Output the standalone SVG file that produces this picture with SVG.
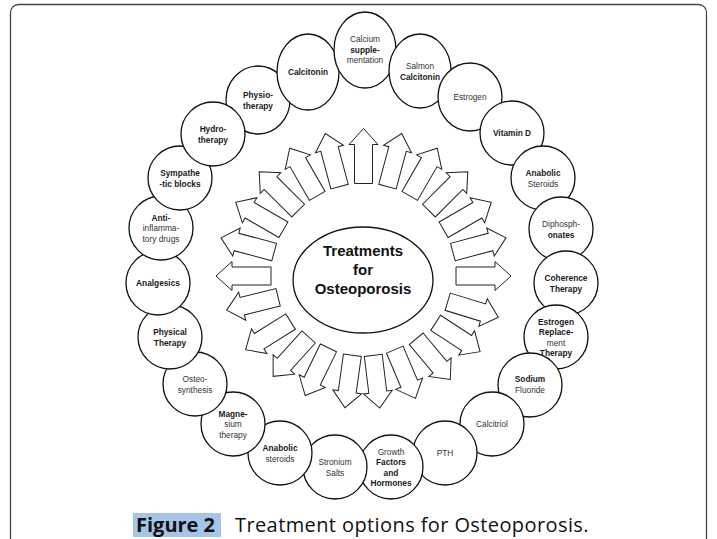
<svg xmlns="http://www.w3.org/2000/svg" xmlns:xlink="http://www.w3.org/1999/xlink" width="717" height="539" viewBox="0 0 717 539">
<style>
.n{fill:#fff;stroke:#111;stroke-width:1.3}
.t{font-family:"Liberation Sans",Arial,sans-serif;font-size:8.3px;text-anchor:middle;fill:#1a1a1a;font-weight:bold}
.r{font-weight:normal;fill:#333}
.arr{fill:#fff;stroke:#222;stroke-width:1;stroke-linejoin:miter}
.ct{font-family:"Liberation Sans",Arial,sans-serif;font-size:15px;font-weight:bold;text-anchor:middle;fill:#111}
.cap{font-family:"Open Sans","Liberation Sans",sans-serif;font-size:20px;fill:#111}
</style>
<defs>
<path id="arrA" class="arr" d="M-9,0 V-39 H-14.5 L0,-55 L14.5,-39 H9 V0 Z"/>
<path id="arrB" class="arr" d="M-9,0 V-37 H-14.5 L0,-53 L14.5,-37 H9 V0 Z"/>
</defs>
<rect x="0" y="0" width="717" height="539" fill="#fff"/>
<rect x="10.5" y="4.5" width="696" height="570" rx="8" fill="none" stroke="#444" stroke-width="1.3"/>

<g id="connectors">
<use href="#arrA" transform="translate(363.5 276) rotate(-90) translate(0 -92.5)"/>
<use href="#arrA" transform="translate(363.5 276) rotate(-75) translate(0 -92.5)"/>
<use href="#arrA" transform="translate(363.5 276) rotate(-60) translate(0 -92.5)"/>
<use href="#arrA" transform="translate(363.5 276) rotate(-45) translate(0 -92.5)"/>
<use href="#arrA" transform="translate(363.5 276) rotate(-30) translate(0 -92.5)"/>
<use href="#arrA" transform="translate(363.5 276) rotate(-15) translate(0 -92.5)"/>
<use href="#arrA" transform="translate(363.5 276) rotate(0) translate(0 -92.5)"/>
<use href="#arrA" transform="translate(363.5 276) rotate(15) translate(0 -92.5)"/>
<use href="#arrA" transform="translate(363.5 276) rotate(30) translate(0 -92.5)"/>
<use href="#arrA" transform="translate(363.5 276) rotate(45) translate(0 -92.5)"/>
<use href="#arrA" transform="translate(363.5 276) rotate(60) translate(0 -92.5)"/>
<use href="#arrA" transform="translate(363.5 276) rotate(75) translate(0 -92.5)"/>
<use href="#arrA" transform="translate(363.5 276) rotate(90) translate(0 -92.5)"/>
<use href="#arrB" transform="translate(363.5 276) rotate(107) translate(0 -88)"/>
<use href="#arrB" transform="translate(363.5 276) rotate(123) translate(0 -86)"/>
<use href="#arrB" transform="translate(363.5 276) rotate(140) translate(0 -82)"/>
<use href="#arrB" transform="translate(363.5 276) rotate(157) translate(0 -80)"/>
<use href="#arrB" transform="translate(363.5 276) rotate(173) translate(0 -80)"/>
<use href="#arrB" transform="translate(363.5 276) rotate(188) translate(0 -80)"/>
<use href="#arrB" transform="translate(363.5 276) rotate(206) translate(0 -80)"/>
<use href="#arrB" transform="translate(363.5 276) rotate(222) translate(0 -82)"/>
<use href="#arrB" transform="translate(363.5 276) rotate(238) translate(0 -86)"/>
<use href="#arrB" transform="translate(363.5 276) rotate(256) translate(0 -88)"/>
</g>

<g id="center">
<ellipse class="n" cx="363" cy="280" rx="70" ry="53"/>
<text class="ct" x="363" y="256">Treatments</text>
<text class="ct" x="363" y="275">for</text>
<text class="ct" x="363" y="294">Osteoporosis</text>
</g>

<g id="physiotherapy"><ellipse class="n" cx="258" cy="100" rx="32" ry="34"/><text class="t" x="258" y="98">Physio-</text><text class="t" x="258" y="108.5">therapy</text></g>
<g id="calcitonin"><ellipse class="n" cx="308" cy="72" rx="31" ry="38"/><text class="t" x="308" y="75">Calcitonin</text></g>
<g id="calcium"><ellipse class="n" cx="365" cy="50" rx="31" ry="38"/><text class="t r" x="365" y="42">Calcium</text><text class="t" x="365" y="52.5">supple-</text><text class="t r" x="365" y="63">mentation</text></g>
<g id="salmon"><ellipse class="n" cx="420" cy="71" rx="31" ry="37"/><text class="t r" x="420" y="69">Salmon</text><text class="t" x="420" y="79.5">Calcitonin</text></g>
<g id="estrogen"><ellipse class="n" cx="470" cy="97" rx="32" ry="34"/><text class="t r" x="470" y="100">Estrogen</text></g>
<g id="vitamind"><circle class="n" cx="512" cy="133" r="32"/><text class="t" x="512" y="136">Vitamin D</text></g>
<g id="anabolic-steroids"><circle class="n" cx="543" cy="178" r="32"/><text class="t" x="543" y="176">Anabolic</text><text class="t r" x="543" y="186.5">Steroids</text></g>
<g id="diphosphonates"><circle class="n" cx="561" cy="229" r="32"/><text class="t r" x="561" y="227">Diphosph-</text><text class="t" x="561" y="237.5">onates</text></g>
<g id="coherence"><circle class="n" cx="566" cy="283" r="32"/><text class="t" x="566" y="281">Coherence</text><text class="t" x="566" y="291.5">Therapy</text></g>
<g id="ert"><circle class="n" cx="556" cy="337" r="32"/><text class="t" x="556" y="324.5">Estrogen</text><text class="t" x="556" y="335">Replace-</text><text class="t r" x="556" y="345.5">ment</text><text class="t" x="556" y="356">Therapy</text></g>
<g id="sodium-fluoride"><circle class="n" cx="530" cy="385" r="32"/><text class="t" x="530" y="382">Sodium</text><text class="t r" x="530" y="392.5">Fluoride</text></g>
<g id="calcitriol"><circle class="n" cx="492" cy="424" r="32"/><text class="t r" x="492" y="427">Calcitriol</text></g>
<g id="pth"><circle class="n" cx="445" cy="453" r="32"/><text class="t r" x="445" y="456">PTH</text></g>
<g id="growth"><circle class="n" cx="391" cy="467" r="32"/><text class="t r" x="391" y="454.5">Growth</text><text class="t" x="391" y="465">Factors</text><text class="t" x="391" y="475.5">and</text><text class="t" x="391" y="486">Hormones</text></g>
<g id="stronium"><circle class="n" cx="335" cy="467" r="32"/><text class="t r" x="335" y="465">Stronium</text><text class="t r" x="335" y="475.5">Salts</text></g>
<g id="anabolic-steroids-2"><circle class="n" cx="280" cy="453" r="32"/><text class="t" x="280" y="451">Anabolic</text><text class="t r" x="280" y="461.5">steroids</text></g>
<g id="magnesium"><circle class="n" cx="233" cy="424" r="32"/><text class="t" x="233" y="416.5">Magne-</text><text class="t r" x="233" y="427">sium</text><text class="t r" x="233" y="437.5">therapy</text></g>
<g id="osteosynthesis"><circle class="n" cx="195" cy="384" r="32"/><text class="t r" x="195" y="382">Osteo-</text><text class="t r" x="195" y="392.5">synthesis</text></g>
<g id="physical-therapy"><circle class="n" cx="170" cy="337" r="32"/><text class="t" x="170" y="335">Physical</text><text class="t" x="170" y="345.5">Therapy</text></g>
<g id="analgesics"><circle class="n" cx="158" cy="283" r="32"/><text class="t" x="158" y="286">Analgesics</text></g>
<g id="anti-inflammatory"><circle class="n" cx="161" cy="228" r="32"/><text class="t" x="161" y="220.5">Anti-</text><text class="t r" x="161" y="231">inflamma-</text><text class="t r" x="161" y="241.5">tory drugs</text></g>
<g id="sympathetic"><circle class="n" cx="180" cy="178" r="32"/><text class="t" x="180" y="176">Sympathe</text><text class="t" x="180" y="186.5">-tic blocks</text></g>
<g id="hydrotherapy"><circle class="n" cx="213" cy="134" r="32"/><text class="t" x="213" y="132">Hydro-</text><text class="t" x="213" y="142.5">therapy</text></g>

<g id="caption">
<rect x="133" y="513" width="88" height="24" fill="#a4c4e8"/>
<text class="cap" x="136" y="532" font-weight="bold">Figure 2</text>
<text class="cap" x="235" y="532" letter-spacing="0.4">Treatment options for Osteoporosis.</text>
</g>
</svg>
